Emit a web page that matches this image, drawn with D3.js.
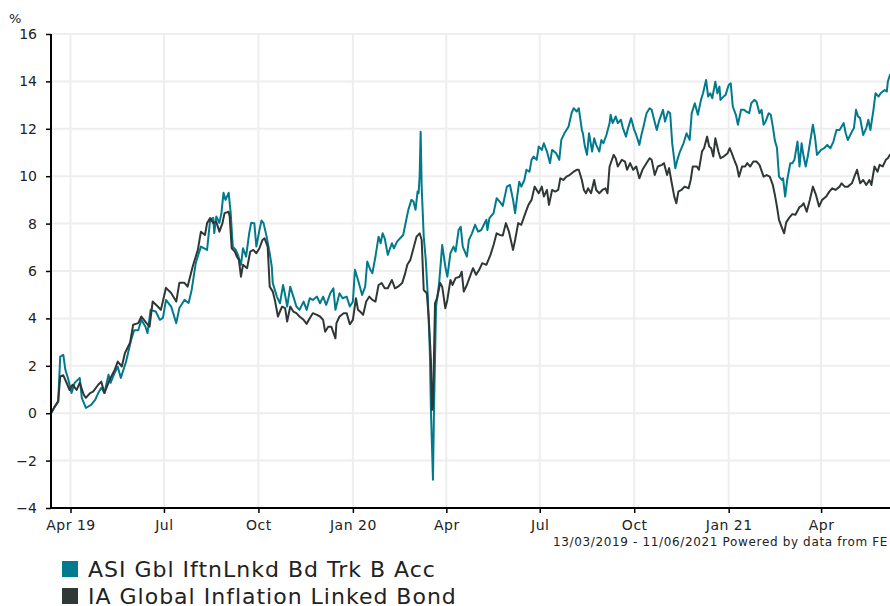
<!DOCTYPE html>
<html>
<head>
<meta charset="utf-8">
<script src="https://cdn.jsdelivr.net/npm/d3@7"></script>
<style>
  body { margin: 0; background: #fff; }
  svg { font-family: "DejaVu Sans", Verdana, sans-serif; }
</style>
</head>
<body>
<div id="chart"></div>
<script>
var width = 890;
var height = 606;

var seriesNames = ["ASI Gbl IftnLnkd Bd Trk B Acc", "IA Global Inflation Linked Bond"];
var seriesColors = ["#007a8c", "#2f3836"];

var tickDates = ["2019-04-01", "2019-07-01", "2019-10-01", "2020-01-01", "2020-04-01",
                 "2020-07-01", "2020-10-01", "2021-01-01", "2021-04-01"];
var tickLabels = ["Apr 19", "Jul", "Oct", "Jan 20", "Apr", "Jul", "Oct", "Jan 21", "Apr"];
var yTicks = [-4, -2, 0, 2, 4, 6, 8, 10, 12, 14, 16];

var asiDates = [
  "2019-03-13","2019-03-17","2019-03-20","2019-03-22","2019-03-25","2019-03-27","2019-03-30","2019-04-02",
  "2019-04-05","2019-04-10","2019-04-12","2019-04-16","2019-04-21","2019-04-25","2019-04-28","2019-05-01",
  "2019-05-04","2019-05-08","2019-05-10","2019-05-14","2019-05-17","2019-05-20","2019-05-25","2019-05-30",
  "2019-06-02","2019-06-06","2019-06-09","2019-06-13","2019-06-15","2019-06-18","2019-06-23","2019-06-27",
  "2019-06-30","2019-07-03","2019-07-08","2019-07-13","2019-07-16","2019-07-21","2019-07-25","2019-07-28",
  "2019-08-01","2019-08-06","2019-08-12","2019-08-15","2019-08-18","2019-08-19","2019-08-21","2019-08-24",
  "2019-08-26","2019-08-28","2019-08-30","2019-09-02","2019-09-04","2019-09-06","2019-09-09","2019-09-11",
  "2019-09-14","2019-09-16","2019-09-19","2019-09-22","2019-09-24","2019-09-27","2019-09-29","2019-10-02",
  "2019-10-04","2019-10-06","2019-10-09","2019-10-12","2019-10-14","2019-10-15","2019-10-19","2019-10-22",
  "2019-10-25","2019-10-27","2019-10-29","2019-11-01","2019-11-04","2019-11-07","2019-11-10","2019-11-14",
  "2019-11-17","2019-11-20","2019-11-23","2019-11-27","2019-11-30","2019-12-03","2019-12-06","2019-12-10",
  "2019-12-13","2019-12-15","2019-12-19","2019-12-22","2019-12-26","2019-12-29","2020-01-01","2020-01-03",
  "2020-01-06","2020-01-10","2020-01-13","2020-01-15","2020-01-18","2020-01-20","2020-01-23","2020-01-26",
  "2020-01-28","2020-01-30","2020-02-01","2020-02-04","2020-02-08","2020-02-10","2020-02-13","2020-02-16",
  "2020-02-19","2020-02-22","2020-02-24","2020-02-27","2020-02-29","2020-03-02","2020-03-04","2020-03-05",
  "2020-03-06","2020-03-07","2020-03-08","2020-03-10","2020-03-12","2020-03-14","2020-03-16","2020-03-17",
  "2020-03-19","2020-03-20","2020-03-22","2020-03-25","2020-03-28","2020-03-31","2020-04-02","2020-04-05",
  "2020-04-08","2020-04-10","2020-04-13","2020-04-15","2020-04-17","2020-04-21","2020-04-23","2020-04-26",
  "2020-04-29","2020-05-02","2020-05-05","2020-05-10","2020-05-11","2020-05-13","2020-05-17","2020-05-20",
  "2020-05-23","2020-05-26","2020-05-30","2020-06-02","2020-06-05","2020-06-07","2020-06-09","2020-06-11",
  "2020-06-13","2020-06-16","2020-06-18","2020-06-21","2020-06-23","2020-06-25","2020-06-28","2020-06-30",
  "2020-07-03","2020-07-05","2020-07-08","2020-07-11","2020-07-13","2020-07-17","2020-07-20","2020-07-22",
  "2020-07-25","2020-07-29","2020-08-01","2020-08-03","2020-08-06","2020-08-08","2020-08-11","2020-08-12",
  "2020-08-14","2020-08-16","2020-08-18","2020-08-21","2020-08-23","2020-08-25","2020-08-28","2020-08-30",
  "2020-09-01","2020-09-04","2020-09-07","2020-09-08","2020-09-10","2020-09-13","2020-09-15","2020-09-18",
  "2020-09-20","2020-09-23","2020-09-25","2020-09-28","2020-10-01","2020-10-03","2020-10-06","2020-10-08",
  "2020-10-10","2020-10-13","2020-10-16","2020-10-18","2020-10-20","2020-10-23","2020-10-25","2020-10-29",
  "2020-10-31","2020-11-03","2020-11-05","2020-11-07","2020-11-10","2020-11-12","2020-11-14","2020-11-16",
  "2020-11-18","2020-11-21","2020-11-24","2020-11-26","2020-11-29","2020-12-02","2020-12-05","2020-12-07",
  "2020-12-10","2020-12-12","2020-12-14","2020-12-16","2020-12-19","2020-12-21","2020-12-23","2020-12-24",
  "2020-12-27","2020-12-29","2021-01-01","2021-01-03","2021-01-05","2021-01-08","2021-01-10","2021-01-13",
  "2021-01-16","2021-01-18","2021-01-21","2021-01-23","2021-01-26","2021-01-28","2021-01-31","2021-02-02",
  "2021-02-04","2021-02-06","2021-02-09","2021-02-11","2021-02-13","2021-02-15","2021-02-17","2021-02-19",
  "2021-02-22","2021-02-23","2021-02-25","2021-02-27","2021-03-02","2021-03-04","2021-03-06","2021-03-09",
  "2021-03-11","2021-03-13","2021-03-15","2021-03-17","2021-03-19","2021-03-24","2021-03-26","2021-03-28",
  "2021-04-01","2021-04-04","2021-04-07","2021-04-10","2021-04-13","2021-04-16","2021-04-19","2021-04-23",
  "2021-04-25","2021-04-27","2021-05-01","2021-05-03","2021-05-05","2021-05-07","2021-05-09","2021-05-12",
  "2021-05-15","2021-05-17","2021-05-19","2021-05-22","2021-05-24","2021-05-27","2021-05-29","2021-05-31",
  "2021-06-02","2021-06-04","2021-06-05","2021-06-07","2021-06-11"
];
var asiValues = [
  0, 0.3, 0.5, 2.39, 2.46, 1.83, 1.4, 0.85,
  1.28, 1.49, 0.65, 0.22, 0.35, 0.56, 0.85, 1.07,
  0.85, 1.62, 1.28, 1.7, 1.96, 1.49, 2.16, 3.09,
  3.5, 3.5, 3.94, 3.65, 3.38, 4.36, 4.29, 3.94,
  4.02, 4.78, 4.5, 3.8, 4.44, 4.78, 4.65, 5.2,
  6.34, 7.03, 6.89, 8.16, 8.24, 7.6, 8.3, 8.03,
  8.45, 9.3, 9.0, 9.3, 8.45, 7.03, 6.89, 6.68,
  6.26, 6.96, 6.61, 7.59, 8.04, 8.02, 7.03, 7.73,
  8.13, 8.02, 7.45, 6.75, 6.19, 5.49, 4.92, 4.64,
  5.41, 4.99, 4.5, 5.34, 4.92, 4.5, 4.36, 4.71,
  4.36, 4.85, 4.78, 4.92, 4.64, 4.92, 4.57, 5.06,
  5.27, 4.36, 5.06, 4.85, 4.92, 4.5, 4.7, 6.05,
  5.62, 4.99, 5.34, 6.4, 6.05, 5.91, 6.61, 7.45,
  7.17, 7.59, 7.38, 6.68, 7.17, 6.96, 7.24, 7.38,
  7.52, 8.16, 8.58, 9.0, 8.93, 8.58, 9.35, 9.28,
  9.98, 11.88, 9.56, 7.45, 6.47, 4.92, 2.53, 0.14,
  -2.81, 0.14, 4.5, 5.49, 7.1, 6.19, 5.76, 6.75,
  7.03, 6.82, 7.73, 7.87, 7.03, 6.61, 7.31, 7.59,
  7.95, 7.66, 7.73, 8.16, 7.73, 8.23, 8.44, 9.07,
  8.93, 8.75, 9.56, 9.63, 9.0, 8.44, 9.14, 9.77,
  9.56, 9.84, 10.27, 10.19, 10.69, 10.83, 10.69, 11.25,
  11.11, 11.39, 11.04, 10.55, 11.11, 10.97, 10.69, 11.53,
  11.81, 12.09, 12.66, 12.87, 12.73, 12.87, 11.95, 11.81,
  11.25, 10.9, 11.81, 11.04, 11.6, 11.32, 11.04, 11.53,
  11.39, 11.75, 12.24, 12.59, 12.24, 12.52, 12.24, 12.38,
  12.03, 11.67, 12.03, 12.45, 11.95, 11.74, 11.32, 11.74,
  12.09, 12.66, 12.87, 12.8, 12.45, 11.95, 12.3, 12.8,
  12.31, 12.73, 12.66, 11.39, 10.34, 10.69, 10.97, 11.18,
  11.39, 11.81, 11.53, 12.66, 13.08, 12.59, 13.22, 13.5,
  14.06, 13.36, 13.5, 13.29, 13.99, 13.5, 13.78, 13.22,
  13.36, 13.43, 13.85, 13.92, 12.94, 12.59, 12.17, 12.8,
  12.8, 12.73, 12.66, 13.08, 13.22, 13.15, 12.66, 12.8,
  12.17, 12.31, 12.66, 12.59, 12.09, 11.5, 11.2, 9.98,
  9.84, 9.91, 9.14, 9.84, 10.55, 10.55, 10.69, 11.46,
  10.41, 11.39, 10.83, 10.41, 10.83, 12.17, 11.67, 10.9,
  11.11, 11.18, 11.32, 11.18, 11.46, 11.95, 11.95, 12.24,
  11.81, 11.53, 11.88, 12.03, 12.8, 12.52, 12.45, 11.74,
  12.03, 12.38, 11.95, 12.8, 13.5, 13.36, 13.5, 13.57,
  13.64, 13.57, 13.99, 14.27, 14.45
];

var iaDates = [
  "2019-03-13","2019-03-17","2019-03-20","2019-03-22","2019-03-25","2019-03-29","2019-03-31","2019-04-03",
  "2019-04-07","2019-04-10","2019-04-14","2019-04-16","2019-04-20","2019-04-23","2019-04-28","2019-05-01",
  "2019-05-04","2019-05-09","2019-05-14","2019-05-17","2019-05-21","2019-05-24","2019-05-29","2019-06-01",
  "2019-06-06","2019-06-09","2019-06-14","2019-06-17","2019-06-20","2019-06-25","2019-06-28","2019-07-03",
  "2019-07-08","2019-07-13","2019-07-16","2019-07-21","2019-07-24","2019-07-29","2019-08-03","2019-08-06",
  "2019-08-10","2019-08-12","2019-08-15","2019-08-18","2019-08-21","2019-08-24","2019-08-27","2019-08-29",
  "2019-09-02","2019-09-03","2019-09-05","2019-09-08","2019-09-10","2019-09-12","2019-09-14","2019-09-16",
  "2019-09-20","2019-09-23","2019-09-26","2019-09-29","2019-10-02","2019-10-05","2019-10-07","2019-10-10",
  "2019-10-12","2019-10-15","2019-10-17","2019-10-20","2019-10-24","2019-10-27","2019-10-29","2019-11-01",
  "2019-11-04","2019-11-07","2019-11-10","2019-11-14","2019-11-17","2019-11-20","2019-11-23","2019-11-27",
  "2019-11-30","2019-12-03","2019-12-05","2019-12-08","2019-12-11","2019-12-15","2019-12-16","2019-12-19",
  "2019-12-23","2019-12-26","2019-12-29","2020-01-01","2020-01-04","2020-01-06","2020-01-08","2020-01-11",
  "2020-01-14","2020-01-17","2020-01-20","2020-01-23","2020-01-26","2020-01-29","2020-02-01","2020-02-04",
  "2020-02-08","2020-02-11","2020-02-14","2020-02-18","2020-02-21","2020-02-23","2020-02-26","2020-02-29",
  "2020-03-03","2020-03-06","2020-03-08","2020-03-10","2020-03-13","2020-03-15","2020-03-17","2020-03-18",
  "2020-03-19","2020-03-21","2020-03-23","2020-03-26","2020-03-28","2020-03-31","2020-04-02","2020-04-05",
  "2020-04-07","2020-04-10","2020-04-14","2020-04-16","2020-04-18","2020-04-21","2020-04-24","2020-04-27",
  "2020-04-30","2020-05-03","2020-05-06","2020-05-10","2020-05-14","2020-05-17","2020-05-20","2020-05-23",
  "2020-05-26","2020-05-29","2020-06-01","2020-06-05","2020-06-07","2020-06-10","2020-06-13","2020-06-17",
  "2020-06-20","2020-06-23","2020-06-26","2020-06-30","2020-07-03","2020-07-05","2020-07-08","2020-07-10",
  "2020-07-13","2020-07-16","2020-07-19","2020-07-21","2020-07-24","2020-07-27","2020-07-30","2020-08-03",
  "2020-08-06","2020-08-08","2020-08-11","2020-08-13","2020-08-15","2020-08-17","2020-08-20","2020-08-23",
  "2020-08-25","2020-08-28","2020-08-31","2020-09-03","2020-09-05","2020-09-07","2020-09-11","2020-09-13",
  "2020-09-15","2020-09-19","2020-09-22","2020-09-24","2020-09-27","2020-09-30","2020-10-03","2020-10-06",
  "2020-10-09","2020-10-12","2020-10-16","2020-10-18","2020-10-21","2020-10-24","2020-10-28","2020-10-30",
  "2020-11-02","2020-11-04","2020-11-06","2020-11-09","2020-11-11","2020-11-13","2020-11-16","2020-11-19",
  "2020-11-23","2020-11-25","2020-11-27","2020-12-01","2020-12-03","2020-12-06","2020-12-08","2020-12-11",
  "2020-12-13","2020-12-15","2020-12-17","2020-12-19","2020-12-22","2020-12-24","2020-12-27","2020-12-31",
  "2021-01-02","2021-01-04","2021-01-07","2021-01-09","2021-01-11","2021-01-14","2021-01-17","2021-01-19",
  "2021-01-22","2021-01-25","2021-01-28","2021-01-31","2021-02-04","2021-02-07","2021-02-10","2021-02-13",
  "2021-02-15","2021-02-17","2021-02-19","2021-02-22","2021-02-24","2021-02-26","2021-03-01","2021-03-04",
  "2021-03-07","2021-03-11","2021-03-13","2021-03-15","2021-03-18","2021-03-21","2021-03-24","2021-03-27",
  "2021-03-30","2021-04-02","2021-04-06","2021-04-09","2021-04-12","2021-04-15","2021-04-19","2021-04-21",
  "2021-04-24","2021-04-27","2021-05-01","2021-05-04","2021-05-06","2021-05-09","2021-05-12","2021-05-15",
  "2021-05-18","2021-05-20","2021-05-23","2021-05-26","2021-05-28","2021-05-31","2021-06-03","2021-06-05",
  "2021-06-07","2021-06-11"
];
var iaValues = [
  0, 0.3, 0.5, 1.55, 1.6, 1.2, 0.98, 1.2,
  0.98, 1.28, 0.77, 0.65, 0.85, 0.91, 1.2, 1.33,
  0.85, 1.4, 1.83, 2.18, 1.97, 2.54, 2.97, 3.73,
  3.8, 4.08, 3.8, 3.65, 4.71, 4.5, 4.36, 5.29,
  5.07, 4.71, 5.5, 5.5, 5.34, 6.19, 6.89, 7.66,
  7.52, 8.02, 8.23, 8.02, 8.08, 7.66, 8.02, 8.44,
  8.5, 8.3, 6.96, 6.82, 6.61, 6.47, 5.76, 6.26,
  6.12, 6.82, 6.89, 6.75, 6.96, 7.31, 7.38, 7.03,
  5.34, 5.13, 4.78, 4.08, 4.5, 4.43, 3.87, 4.5,
  4.29, 4.22, 4.08, 3.94, 3.77, 4.01, 4.22, 4.15,
  4.08, 3.94, 3.44, 3.65, 3.65, 3.16, 3.8, 4.08,
  4.22, 4.22, 3.75, 3.94, 4.85, 4.36, 4.29, 4.15,
  4.71, 4.92, 4.78, 4.71, 5.41, 5.49, 5.27, 5.27,
  5.62, 5.27, 5.34, 5.49, 5.91, 6.26, 6.47, 6.96,
  7.45, 7.59, 7.31, 5.2, 5.06, 3.94, 2.25, 0.14,
  0.3, 4.64, 4.85, 5.49, 5.34, 4.43, 4.78, 5.62,
  5.41, 5.7, 5.76, 5.97, 5.13, 5.41, 5.76, 6.12,
  5.84, 6.05, 6.33, 6.26, 6.68, 7.1, 7.59, 7.52,
  7.5, 8.02, 7.66, 6.89, 7.31, 8.02, 7.95, 8.44,
  8.79, 9.0, 9.56, 9.28, 9.56, 9.14, 9.42, 8.79,
  9.42, 9.35, 9.42, 9.91, 9.84, 9.98, 10.05, 10.19,
  10.27, 10.27, 9.84, 9.42, 9.28, 9.49, 9.28, 9.84,
  9.42, 9.28, 9.42, 9.49, 9.28, 10.41, 10.9, 10.76,
  10.41, 10.69, 10.62, 10.27, 10.55, 10.27, 10.41, 9.91,
  10.27, 10.48, 10.76, 10.69, 10.05, 10.41, 10.48, 10.55,
  10.05, 10.34, 9.84, 9.14, 8.86, 9.35, 9.42, 9.56,
  9.49, 9.84, 10.41, 10.41, 10.27, 11.04, 11.18, 11.67,
  11.25, 11.18, 10.83, 11.6, 11.04, 10.76, 10.83, 10.97,
  11.18, 10.97, 10.62, 10.41, 9.98, 10.41, 10.41, 10.55,
  10.41, 10.62, 10.62, 10.48, 9.98, 10.05, 9.98, 9.63,
  9.21, 8.72, 8.16, 7.81, 7.59, 8.05, 8.25, 8.4,
  8.37, 8.7, 8.75, 8.86, 8.5, 9.0, 9.56, 9.21,
  8.72, 9.0, 9.14, 9.35, 9.49, 9.42, 9.56, 9.7,
  9.56, 9.56, 9.7, 10.05, 10.27, 9.7, 9.84, 9.63,
  9.84, 9.63, 10.41, 10.19, 10.48, 10.41, 10.69, 10.76,
  10.9, 11.0
];

var parseDate = d3.timeParse("%Y-%m-%d");

var series = [
  { name: seriesNames[0], color: seriesColors[0],
    points: asiDates.map(function (d, i) { return { date: parseDate(d), value: asiValues[i] }; }) },
  { name: seriesNames[1], color: seriesColors[1],
    points: iaDates.map(function (d, i) { return { date: parseDate(d), value: iaValues[i] }; }) }
];

var svg = d3.select("#chart")
  .append("svg")
  .attr("width", width)
  .attr("height", height);

var xScale = d3.scaleTime()
  .domain([parseDate("2019-03-13"), parseDate("2021-06-11")])
  .range([51, 894]);
var yScale = d3.scaleLinear().domain([-4, 16]).range([508, 34]);

var tickValues = tickDates.map(parseDate);

// grid
svg.append("g")
  .selectAll("line.vgrid")
  .data(tickValues)
  .enter()
  .append("line")
  .attr("x1", function (d) { return xScale(d); })
  .attr("x2", function (d) { return xScale(d); })
  .attr("y1", yScale(16))
  .attr("y2", yScale(-4))
  .attr("stroke", "#eeeeee")
  .attr("stroke-width", 2);

svg.append("g")
  .selectAll("line.hgrid")
  .data(yTicks)
  .enter()
  .append("line")
  .attr("x1", 51)
  .attr("x2", width)
  .attr("y1", function (d) { return yScale(d); })
  .attr("y2", function (d) { return yScale(d); })
  .attr("stroke", "#eeeeee")
  .attr("stroke-width", 2);

// lines
var line = d3.line()
  .x(function (d) { return xScale(d.date); })
  .y(function (d) { return yScale(d.value); });

svg.append("g")
  .selectAll("path.series")
  .data(series)
  .enter()
  .append("path")
  .attr("class", "series")
  .attr("fill", "none")
  .attr("stroke", function (d) { return d.color; })
  .attr("stroke-width", 2)
  .attr("stroke-linejoin", "round")
  .attr("d", function (d) { return line(d.points); });

// axes
var yAxis = d3.axisLeft(yScale).tickValues(yTicks).tickSize(5).tickPadding(9);
var xAxis = d3.axisBottom(xScale)
  .tickValues(tickValues)
  .tickSize(5)
  .tickPadding(7)
  .tickFormat(function (d, i) { return tickLabels[i]; });

var gy = svg.append("g")
  .attr("transform", "translate(51,0)")
  .call(yAxis);
var gx = svg.append("g")
  .attr("transform", "translate(0,508)")
  .call(xAxis);

[gx, gy].forEach(function (g) {
  g.select(".domain").attr("stroke", "#000").attr("stroke-width", 2);
  g.selectAll(".tick line").attr("stroke", "#000").attr("stroke-width", 1.5);
  g.selectAll(".tick text")
    .attr("fill", "#222")
    .style("font-family", "'DejaVu Sans', Verdana, sans-serif")
    .style("font-size", "14px");
});
gx.selectAll(".tick text").style("letter-spacing", "0.5px");
gy.select(".domain").attr("d", "M0," + yScale(16) + "V" + yScale(-4));
gx.select(".domain").attr("d", "M51,0H" + width);

svg.append("text")
  .attr("x", 9)
  .attr("y", 23)
  .style("font-size", "13px")
  .attr("fill", "#222")
  .text("%");

svg.append("text")
  .attr("x", 888)
  .attr("y", 546)
  .attr("text-anchor", "end")
  .style("font-size", "12px")
  .style("letter-spacing", "0.65px")
  .attr("fill", "#222")
  .text("13/03/2019 - 11/06/2021 Powered by data from FE");

// legend
var legend = svg.append("g")
  .selectAll("g.legend")
  .data(series)
  .enter()
  .append("g")
  .attr("transform", function (d, i) { return "translate(62," + (561 + i * 27) + ")"; });

legend.append("rect")
  .attr("width", 16)
  .attr("height", 16)
  .attr("fill", function (d) { return d.color; });

legend.append("text")
  .attr("x", 26)
  .attr("y", 16)
  .style("font-size", "22px")
  .style("letter-spacing", "1px")
  .attr("fill", "#222")
  .text(function (d) { return d.name; });
</script>
</body>
</html>
